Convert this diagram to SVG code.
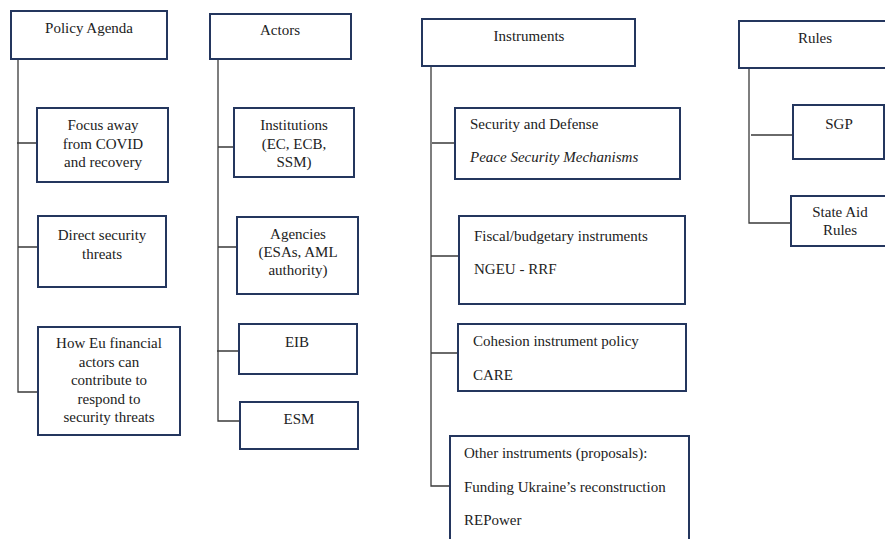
<svg xmlns="http://www.w3.org/2000/svg" width="885" height="539" viewBox="0 0 885 539">
<style>
.box{fill:#fff;stroke:#24365e;stroke-width:2}
.t{font-family:"Liberation Serif","Times New Roman",serif;font-size:15px;fill:#222}
.c{text-anchor:middle}
.i{font-style:italic}
.ln{stroke:#3a3a3a;stroke-width:1.3;fill:none}
</style>
<rect width="885" height="539" fill="#fff"/>
<g id="connectors">
<path class="ln" d="M18 59V392H38M17 143H37M18 247H38"/>
<path class="ln" d="M218 59V421H240M218 147H234M218 247H237M217 351H239"/>
<path class="ln" d="M431 66V486H450M432 143H455M431 256H459M431 353H458"/>
<path class="ln" d="M749 68V223H791M751 135H793"/>
</g>
<g id="policy-agenda"><rect class="box" x="11" y="11" width="156" height="48"/><text class="t c" x="89" y="33">Policy Agenda</text></g>
<g id="focus-away"><rect class="box" x="37" y="108" width="131" height="74"/><text class="t c" x="103" y="130">Focus away</text><text class="t c" x="103" y="149">from COVID</text><text class="t c" x="103" y="167">and recovery</text></g>
<g id="direct-threats"><rect class="box" x="38" y="216" width="128" height="71"/><text class="t c" x="102" y="240">Direct security</text><text class="t c" x="102" y="259">threats</text></g>
<g id="how-eu"><rect class="box" x="38" y="327" width="142" height="108"/><text class="t c" x="109" y="348">How Eu financial</text><text class="t c" x="109" y="367">actors can</text><text class="t c" x="109" y="385">contribute to</text><text class="t c" x="109" y="404">respond to</text><text class="t c" x="109" y="422">security threats</text></g>
<g id="actors"><rect class="box" x="210" y="14" width="141" height="45"/><text class="t c" x="280" y="35">Actors</text></g>
<g id="institutions"><rect class="box" x="234" y="108" width="120" height="69"/><text class="t c" x="294" y="130">Institutions</text><text class="t c" x="294" y="149">(EC, ECB,</text><text class="t c" x="294" y="167">SSM)</text></g>
<g id="agencies"><rect class="box" x="237" y="217" width="121" height="77"/><text class="t c" x="298" y="239">Agencies</text><text class="t c" x="298" y="257">(ESAs, AML</text><text class="t c" x="298" y="275">authority)</text></g>
<g id="eib"><rect class="box" x="239" y="324" width="118" height="50"/><text class="t c" x="297" y="347">EIB</text></g>
<g id="esm"><rect class="box" x="240" y="402" width="118" height="47"/><text class="t c" x="299" y="424">ESM</text></g>
<g id="instruments"><rect class="box" x="422" y="19" width="213" height="47"/><text class="t c" x="529" y="41">Instruments</text></g>
<g id="security-defense"><rect class="box" x="455" y="108" width="225" height="71"/><text class="t" x="470" y="129">Security and Defense</text><text class="t i" x="470" y="162">Peace Security Mechanisms</text></g>
<g id="fiscal"><rect class="box" x="459" y="216" width="226" height="88"/><text class="t" x="474" y="241">Fiscal/budgetary instruments</text><text class="t" x="474" y="274">NGEU - RRF</text></g>
<g id="cohesion"><rect class="box" x="458" y="324" width="228" height="67"/><text class="t" x="473" y="346">Cohesion instrument policy</text><text class="t" x="473" y="380">CARE</text></g>
<g id="other"><rect class="box" x="450" y="436" width="239" height="120"/><text class="t" x="464" y="458">Other instruments (proposals):</text><text class="t" x="464" y="492">Funding Ukraine’s reconstruction</text><text class="t" x="464" y="525">REPower</text></g>
<g id="rules"><rect class="box" x="739" y="21" width="160" height="47"/><text class="t c" x="815" y="43">Rules</text></g>
<g id="sgp"><rect class="box" x="793" y="105" width="91" height="54"/><text class="t c" x="839" y="129">SGP</text></g>
<g id="state-aid"><rect class="box" x="791" y="196" width="100" height="50"/><text class="t c" x="840" y="217">State Aid</text><text class="t c" x="840" y="235">Rules</text></g>
</svg>
